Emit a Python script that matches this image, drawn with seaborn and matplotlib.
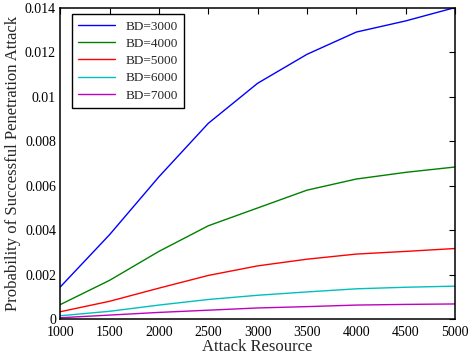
import numpy as np
import pandas as pd
import matplotlib
matplotlib.use('Agg')
import matplotlib.pyplot as plt
from matplotlib.ticker import FuncFormatter
import seaborn as sns

# attack resource values on x axis
resource = [1000, 1500, 2000, 2500, 3000, 3500, 4000, 4500, 5000]

# probability of successful penetration for each BD
bd3000 = [0.00145, 0.0038, 0.0064, 0.0088, 0.0106, 0.0119, 0.0129, 0.0134, 0.0140]
bd4000 = [0.00066, 0.00175, 0.00305, 0.0042, 0.0050, 0.0058, 0.0063, 0.0066, 0.00684]
bd5000 = [0.00034, 0.00081, 0.0014, 0.00197, 0.0024, 0.0027, 0.00293, 0.00305, 0.00318]
bd6000 = [0.00016, 0.00036, 0.00064, 0.00089, 0.00108, 0.00123, 0.00137, 0.00144, 0.00149]
bd7000 = [0.00007, 0.00019, 0.00031, 0.00041, 0.00051, 0.00057, 0.00064, 0.00067, 0.00069]

labels = ['BD=3000', 'BD=4000', 'BD=5000', 'BD=6000', 'BD=7000']
colors = ['#0000ff', '#008000', '#ff0000', '#00bfbf', '#bf00bf']

series = [bd3000, bd4000, bd5000, bd6000, bd7000]
rows = []
for lab, vals in zip(labels, series):
    for x, v in zip(resource, vals):
        rows.append({'resource': x, 'prob': v, 'bd': lab})
df = pd.DataFrame(rows)

sns.set_style('white')
plt.rcParams['font.family'] = ['Liberation Serif', 'DejaVu Serif']

fig = plt.figure(figsize=(4.74, 3.6), dpi=100)
ax = fig.add_axes([0.127, 0.113, 0.833, 0.866])

sns.lineplot(data=df, x='resource', y='prob', hue='bd', hue_order=labels,
             palette=colors, linewidth=1.0, ax=ax)

ax.set_xlim(1000, 5000)
ax.set_ylim(0, 0.014)
ax.set_xticks(resource)
ax.set_yticks(np.arange(0, 0.0141, 0.002))
ax.yaxis.set_major_formatter(FuncFormatter(lambda v, p: '%g' % round(v, 4)))
ax.tick_params(direction='in', top=True, right=True, length=4, width=0.8,
               labelsize=10, colors='black', pad=3)
ax.tick_params(axis='x', pad=5)
for s in ax.spines.values():
    s.set_color('black')
    s.set_linewidth(1.1)

ax.set_xlabel('Attack Resource', fontsize=12, labelpad=0)
ax.set_ylabel('Probability of Successful Penetration Attack', fontsize=12, labelpad=3)

leg = ax.legend(loc='upper left', fontsize=9.5, frameon=True, fancybox=False,
                edgecolor='black', framealpha=1, handlelength=2.8,
                borderpad=0.45, labelspacing=0.38, borderaxespad=0,
                bbox_to_anchor=(0.03, 0.978))
leg.get_frame().set_linewidth(1.0)

fig.savefig('out.png', dpi=100)
